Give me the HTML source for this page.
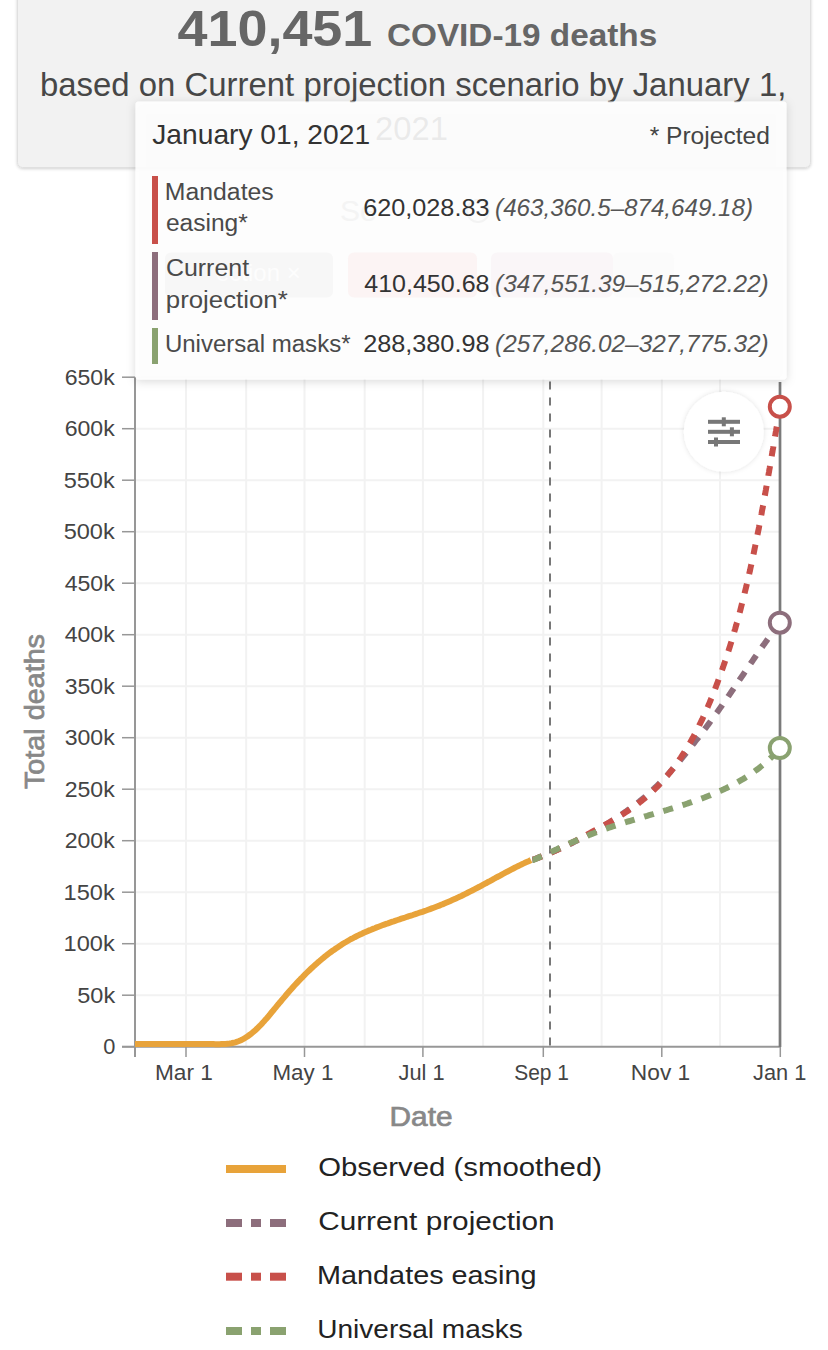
<!DOCTYPE html>
<html><head><meta charset="utf-8"><style>
html,body{margin:0;padding:0;background:#fff;width:828px;height:1350px;overflow:hidden}
svg{display:block}
text{font-family:"Liberation Sans", sans-serif}
</style></head><body>
<svg width="828" height="1350" viewBox="0 0 828 1350">
<defs><filter id="sh" x="-10%" y="-20%" width="120%" height="140%"><feDropShadow dx="0" dy="1" stdDeviation="1.5" flood-color="#000" flood-opacity="0.18"/></filter><filter id="sh2" x="-10%" y="-10%" width="120%" height="130%"><feDropShadow dx="0" dy="2" stdDeviation="5" flood-color="#000" flood-opacity="0.17"/></filter><filter id="sh3" x="-30%" y="-30%" width="160%" height="160%"><feDropShadow dx="0" dy="0" stdDeviation="2.5" flood-color="#000" flood-opacity="0.12"/></filter></defs>
<rect x="17.5" y="-10" width="793" height="177.5" rx="5" fill="#f2f2f2" stroke="#e0e0e0" stroke-width="1" filter="url(#sh)"/>
<text id="h_num" x="177.46" y="45.90" font-size="50.00" fill="#666" font-weight="bold" font-style="normal" text-anchor="start" textLength="194.89" lengthAdjust="spacingAndGlyphs">410,451</text>
<text id="h_covid" x="386.92" y="46.20" font-size="31.00" fill="#666" font-weight="bold" font-style="normal" text-anchor="start" textLength="270.31" lengthAdjust="spacingAndGlyphs">COVID-19 deaths</text>
<text id="h_sub" x="39.96" y="95.70" font-size="32.30" fill="#474747" font-weight="normal" font-style="normal" text-anchor="start" textLength="746.37" lengthAdjust="spacingAndGlyphs">based on Current projection scenario by January 1,</text>
<text id="h_2021" x="374.97" y="140.00" font-size="32.30" fill="#474747" font-weight="normal" font-style="normal" text-anchor="start" textLength="72.92" lengthAdjust="spacingAndGlyphs">2021</text>
<line x1="186.0" y1="377" x2="186.0" y2="1046" stroke="#f2f2f2" stroke-width="2"/>
<line x1="246.2" y1="377" x2="246.2" y2="1046" stroke="#f2f2f2" stroke-width="2"/>
<line x1="304.5" y1="377" x2="304.5" y2="1046" stroke="#f2f2f2" stroke-width="2"/>
<line x1="364.7" y1="377" x2="364.7" y2="1046" stroke="#f2f2f2" stroke-width="2"/>
<line x1="422.9" y1="377" x2="422.9" y2="1046" stroke="#f2f2f2" stroke-width="2"/>
<line x1="483.1" y1="377" x2="483.1" y2="1046" stroke="#f2f2f2" stroke-width="2"/>
<line x1="543.3" y1="377" x2="543.3" y2="1046" stroke="#f2f2f2" stroke-width="2"/>
<line x1="601.6" y1="377" x2="601.6" y2="1046" stroke="#f2f2f2" stroke-width="2"/>
<line x1="661.8" y1="377" x2="661.8" y2="1046" stroke="#f2f2f2" stroke-width="2"/>
<line x1="720.0" y1="377" x2="720.0" y2="1046" stroke="#f2f2f2" stroke-width="2"/>
<line x1="135" y1="995.2" x2="780" y2="995.2" stroke="#f2f2f2" stroke-width="2"/>
<line x1="135" y1="943.7" x2="780" y2="943.7" stroke="#f2f2f2" stroke-width="2"/>
<line x1="135" y1="892.2" x2="780" y2="892.2" stroke="#f2f2f2" stroke-width="2"/>
<line x1="135" y1="840.7" x2="780" y2="840.7" stroke="#f2f2f2" stroke-width="2"/>
<line x1="135" y1="789.2" x2="780" y2="789.2" stroke="#f2f2f2" stroke-width="2"/>
<line x1="135" y1="737.7" x2="780" y2="737.7" stroke="#f2f2f2" stroke-width="2"/>
<line x1="135" y1="686.2" x2="780" y2="686.2" stroke="#f2f2f2" stroke-width="2"/>
<line x1="135" y1="634.7" x2="780" y2="634.7" stroke="#f2f2f2" stroke-width="2"/>
<line x1="135" y1="583.2" x2="780" y2="583.2" stroke="#f2f2f2" stroke-width="2"/>
<line x1="135" y1="531.7" x2="780" y2="531.7" stroke="#f2f2f2" stroke-width="2"/>
<line x1="135" y1="480.2" x2="780" y2="480.2" stroke="#f2f2f2" stroke-width="2"/>
<line x1="135" y1="428.7" x2="780" y2="428.7" stroke="#f2f2f2" stroke-width="2"/>
<line x1="135" y1="377.2" x2="780" y2="377.2" stroke="#f2f2f2" stroke-width="2"/>
<line x1="122" y1="1046.7" x2="135" y2="1046.7" stroke="#979797" stroke-width="1.5"/>
<line x1="122" y1="995.2" x2="135" y2="995.2" stroke="#979797" stroke-width="1.5"/>
<line x1="122" y1="943.7" x2="135" y2="943.7" stroke="#979797" stroke-width="1.5"/>
<line x1="122" y1="892.2" x2="135" y2="892.2" stroke="#979797" stroke-width="1.5"/>
<line x1="122" y1="840.7" x2="135" y2="840.7" stroke="#979797" stroke-width="1.5"/>
<line x1="122" y1="789.2" x2="135" y2="789.2" stroke="#979797" stroke-width="1.5"/>
<line x1="122" y1="737.7" x2="135" y2="737.7" stroke="#979797" stroke-width="1.5"/>
<line x1="122" y1="686.2" x2="135" y2="686.2" stroke="#979797" stroke-width="1.5"/>
<line x1="122" y1="634.7" x2="135" y2="634.7" stroke="#979797" stroke-width="1.5"/>
<line x1="122" y1="583.2" x2="135" y2="583.2" stroke="#979797" stroke-width="1.5"/>
<line x1="122" y1="531.7" x2="135" y2="531.7" stroke="#979797" stroke-width="1.5"/>
<line x1="122" y1="480.2" x2="135" y2="480.2" stroke="#979797" stroke-width="1.5"/>
<line x1="122" y1="428.7" x2="135" y2="428.7" stroke="#979797" stroke-width="1.5"/>
<line x1="122" y1="377.2" x2="135" y2="377.2" stroke="#979797" stroke-width="1.5"/>
<line x1="135" y1="377" x2="135" y2="1057" stroke="#979797" stroke-width="2"/>
<line x1="122" y1="1046.7" x2="781" y2="1046.7" stroke="#979797" stroke-width="2"/>
<line x1="186.0" y1="1046.7" x2="186.0" y2="1057" stroke="#979797" stroke-width="1.5"/>
<line x1="304.5" y1="1046.7" x2="304.5" y2="1057" stroke="#979797" stroke-width="1.5"/>
<line x1="422.9" y1="1046.7" x2="422.9" y2="1057" stroke="#979797" stroke-width="1.5"/>
<line x1="543.3" y1="1046.7" x2="543.3" y2="1057" stroke="#979797" stroke-width="1.5"/>
<line x1="661.8" y1="1046.7" x2="661.8" y2="1057" stroke="#979797" stroke-width="1.5"/>
<line x1="780.3" y1="1046.7" x2="780.3" y2="1057" stroke="#979797" stroke-width="1.5"/>
<line x1="550" y1="381.6" x2="550" y2="1046" stroke="#777" stroke-width="2" stroke-dasharray="8 8"/>
<line x1="780" y1="382" x2="780" y2="1047" stroke="#7a7a7a" stroke-width="2.7"/>
<text id="tdeaths" transform="translate(43.7,711) rotate(-90)" x="-78" y="0" font-size="27" fill="#888" stroke="#888" stroke-width="0.7" textLength="155" lengthAdjust="spacingAndGlyphs">Total deaths</text>
<text id="y0" x="103.14" y="1054.30" font-size="22.60" fill="#444" font-weight="normal" font-style="normal" text-anchor="start" textLength="12.12" lengthAdjust="spacingAndGlyphs">0</text>
<text id="y1" x="77.26" y="1002.80" font-size="22.60" fill="#444" font-weight="normal" font-style="normal" text-anchor="start" textLength="37.90" lengthAdjust="spacingAndGlyphs">50k</text>
<text id="y2" x="63.62" y="951.30" font-size="22.60" fill="#444" font-weight="normal" font-style="normal" text-anchor="start" textLength="51.09" lengthAdjust="spacingAndGlyphs">100k</text>
<text id="y3" x="63.62" y="899.80" font-size="22.60" fill="#444" font-weight="normal" font-style="normal" text-anchor="start" textLength="51.09" lengthAdjust="spacingAndGlyphs">150k</text>
<text id="y4" x="64.68" y="848.30" font-size="22.60" fill="#444" font-weight="normal" font-style="normal" text-anchor="start" textLength="50.03" lengthAdjust="spacingAndGlyphs">200k</text>
<text id="y5" x="64.68" y="796.80" font-size="22.60" fill="#444" font-weight="normal" font-style="normal" text-anchor="start" textLength="50.03" lengthAdjust="spacingAndGlyphs">250k</text>
<text id="y6" x="64.68" y="745.30" font-size="22.60" fill="#444" font-weight="normal" font-style="normal" text-anchor="start" textLength="50.03" lengthAdjust="spacingAndGlyphs">300k</text>
<text id="y7" x="64.68" y="693.80" font-size="22.60" fill="#444" font-weight="normal" font-style="normal" text-anchor="start" textLength="50.03" lengthAdjust="spacingAndGlyphs">350k</text>
<text id="y8" x="64.68" y="642.30" font-size="22.60" fill="#444" font-weight="normal" font-style="normal" text-anchor="start" textLength="50.03" lengthAdjust="spacingAndGlyphs">400k</text>
<text id="y9" x="64.68" y="590.80" font-size="22.60" fill="#444" font-weight="normal" font-style="normal" text-anchor="start" textLength="50.03" lengthAdjust="spacingAndGlyphs">450k</text>
<text id="y10" x="63.65" y="539.30" font-size="22.60" fill="#444" font-weight="normal" font-style="normal" text-anchor="start" textLength="51.05" lengthAdjust="spacingAndGlyphs">500k</text>
<text id="y11" x="63.65" y="487.80" font-size="22.60" fill="#444" font-weight="normal" font-style="normal" text-anchor="start" textLength="51.05" lengthAdjust="spacingAndGlyphs">550k</text>
<text id="y12" x="64.68" y="436.30" font-size="22.60" fill="#444" font-weight="normal" font-style="normal" text-anchor="start" textLength="50.03" lengthAdjust="spacingAndGlyphs">600k</text>
<text id="y13" x="64.68" y="384.80" font-size="22.60" fill="#444" font-weight="normal" font-style="normal" text-anchor="start" textLength="50.03" lengthAdjust="spacingAndGlyphs">650k</text>
<text id="x_Mar1" x="154.92" y="1079.50" font-size="21.50" fill="#444" font-weight="normal" font-style="normal" text-anchor="start" textLength="57.95" lengthAdjust="spacingAndGlyphs">Mar 1</text>
<text id="x_May1" x="272.44" y="1079.50" font-size="21.50" fill="#444" font-weight="normal" font-style="normal" text-anchor="start" textLength="60.90" lengthAdjust="spacingAndGlyphs">May 1</text>
<text id="x_Jul1" x="398.49" y="1079.50" font-size="21.50" fill="#444" font-weight="normal" font-style="normal" text-anchor="start" textLength="46.08" lengthAdjust="spacingAndGlyphs">Jul 1</text>
<text id="x_Sep1" x="514.21" y="1079.50" font-size="21.50" fill="#444" font-weight="normal" font-style="normal" text-anchor="start" textLength="54.74" lengthAdjust="spacingAndGlyphs">Sep 1</text>
<text id="x_Nov1" x="630.89" y="1079.50" font-size="21.50" fill="#444" font-weight="normal" font-style="normal" text-anchor="start" textLength="59.35" lengthAdjust="spacingAndGlyphs">Nov 1</text>
<text id="x_Jan1" x="753.02" y="1079.50" font-size="21.50" fill="#444" font-weight="normal" font-style="normal" text-anchor="start" textLength="53.26" lengthAdjust="spacingAndGlyphs">Jan 1</text>
<text id="date" x="389.52" y="1125.60" font-size="27.00" fill="#888" font-weight="normal" font-style="normal" text-anchor="start" textLength="63.02" lengthAdjust="spacingAndGlyphs" stroke="#888" stroke-width="0.7">Date</text>
<text id="lg1" x="318.18" y="1175.50" font-size="25.50" fill="#222" font-weight="normal" font-style="normal" text-anchor="start" textLength="283.81" lengthAdjust="spacingAndGlyphs">Observed (smoothed)</text>
<text id="lg2" x="318.15" y="1230.00" font-size="25.50" fill="#222" font-weight="normal" font-style="normal" text-anchor="start" textLength="236.54" lengthAdjust="spacingAndGlyphs">Current projection</text>
<text id="lg3" x="317.07" y="1284.20" font-size="25.50" fill="#222" font-weight="normal" font-style="normal" text-anchor="start" textLength="219.37" lengthAdjust="spacingAndGlyphs">Mandates easing</text>
<text id="lg4" x="317.29" y="1338.30" font-size="25.50" fill="#222" font-weight="normal" font-style="normal" text-anchor="start" textLength="205.45" lengthAdjust="spacingAndGlyphs">Universal masks</text>
<path d="M135.0 1044.0 L137.0 1044.0 L139.0 1044.0 L141.1 1044.0 L143.1 1044.1 L145.1 1044.1 L147.1 1044.1 L149.1 1044.1 L151.1 1044.1 L153.1 1044.1 L155.1 1044.1 L157.1 1044.1 L159.1 1044.1 L161.1 1044.1 L163.1 1044.0 L165.1 1044.0 L167.1 1044.0 L169.1 1044.0 L171.2 1044.0 L173.2 1044.0 L175.2 1043.9 L177.2 1043.9 L179.2 1043.9 L181.2 1043.9 L183.2 1043.9 L185.2 1043.9 L187.2 1043.9 L189.2 1043.9 L191.2 1043.9 L193.2 1043.9 L195.2 1043.9 L197.2 1043.9 L199.2 1043.9 L201.2 1043.9 L203.3 1043.9 L205.3 1044.0 L207.3 1044.0 L209.3 1044.0 L211.3 1044.1 L213.4 1044.1 L215.4 1044.2 L217.4 1044.2 L219.4 1044.2 L221.5 1044.1 L223.5 1044.0 L225.5 1043.9 L227.5 1043.7 L229.5 1043.5 L231.4 1043.2 L233.4 1042.8 L235.3 1042.3 L237.2 1041.7 L239.0 1041.0 L240.9 1040.2 L242.6 1039.3 L244.4 1038.4 L246.1 1037.3 L247.8 1036.2 L249.4 1035.0 L251.0 1033.8 L252.6 1032.5 L254.1 1031.2 L255.6 1029.9 L257.1 1028.5 L258.5 1027.1 L260.0 1025.7 L261.4 1024.2 L262.7 1022.7 L264.1 1021.3 L265.4 1019.7 L266.8 1018.2 L268.1 1016.7 L269.4 1015.2 L270.6 1013.6 L271.9 1012.0 L273.2 1010.5 L274.5 1008.9 L275.8 1007.4 L277.0 1005.8 L278.3 1004.3 L279.6 1002.7 L280.9 1001.2 L282.2 999.6 L283.5 998.1 L284.8 996.6 L286.1 995.0 L287.4 993.5 L288.7 992.0 L290.0 990.5 L291.4 989.0 L292.7 987.5 L294.0 986.0 L295.4 984.5 L296.7 983.1 L298.1 981.6 L299.5 980.2 L300.9 978.7 L302.3 977.3 L303.7 975.8 L305.1 974.4 L306.5 973.0 L307.9 971.6 L309.4 970.2 L310.9 968.8 L312.3 967.5 L313.8 966.1 L315.3 964.7 L316.8 963.4 L318.3 962.1 L319.9 960.8 L321.4 959.5 L323.0 958.2 L324.5 956.9 L326.1 955.7 L327.7 954.4 L329.3 953.2 L330.9 952.0 L332.5 950.8 L334.2 949.7 L335.8 948.5 L337.5 947.4 L339.2 946.3 L340.8 945.2 L342.5 944.1 L344.2 943.0 L346.0 942.0 L347.7 941.0 L349.4 940.0 L351.2 939.0 L353.0 938.1 L354.7 937.2 L356.5 936.3 L358.3 935.4 L360.1 934.5 L361.9 933.7 L363.7 932.8 L365.6 932.0 L367.4 931.2 L369.3 930.4 L371.1 929.7 L373.0 928.9 L374.8 928.2 L376.7 927.4 L378.6 926.7 L380.5 926.0 L382.3 925.3 L384.2 924.6 L386.1 923.9 L388.0 923.3 L389.9 922.6 L391.8 921.9 L393.7 921.3 L395.7 920.6 L397.6 920.0 L399.5 919.4 L401.4 918.7 L403.3 918.1 L405.2 917.5 L407.1 916.8 L409.0 916.2 L411.0 915.6 L412.9 915.0 L414.8 914.3 L416.7 913.7 L418.6 913.0 L420.5 912.4 L422.4 911.8 L424.3 911.1 L426.2 910.5 L428.1 909.8 L430.0 909.1 L431.8 908.4 L433.7 907.7 L435.6 907.0 L437.5 906.3 L439.3 905.6 L441.2 904.8 L443.0 904.1 L444.9 903.3 L446.7 902.5 L448.6 901.7 L450.4 900.9 L452.3 900.1 L454.1 899.3 L455.9 898.5 L457.7 897.6 L459.5 896.7 L461.4 895.9 L463.2 895.0 L465.0 894.1 L466.8 893.2 L468.6 892.3 L470.4 891.4 L472.2 890.5 L473.9 889.6 L475.7 888.6 L477.5 887.7 L479.3 886.8 L481.1 885.8 L482.8 884.9 L484.6 883.9 L486.4 883.0 L488.1 882.0 L489.9 881.1 L491.7 880.1 L493.4 879.1 L495.2 878.2 L496.9 877.2 L498.7 876.3 L500.5 875.3 L502.2 874.3 L504.0 873.4 L505.8 872.4 L507.6 871.5 L509.3 870.6 L511.1 869.6 L512.9 868.7 L514.7 867.8 L516.5 866.9 L518.3 866.0 L520.1 865.1 L521.9 864.2 L523.7 863.4 L525.5 862.5 L527.3 861.7 L529.2 860.9 L531.0 860.0" fill="none" stroke="#e8a33a" stroke-width="6" stroke-linecap="butt"/>
<path d="M531.0 860.0 L533.0 859.6 L534.9 859.0 L536.7 858.3 L538.6 857.5 L540.4 856.8 L542.3 856.1 L544.1 855.4 L546.0 854.6 L547.8 853.9 L549.7 853.1 L551.5 852.3 L553.3 851.5 L555.2 850.8 L557.0 849.9 L558.8 849.1 L560.6 848.3 L562.5 847.5 L564.3 846.7 L566.1 845.8 L567.9 845.0 L569.7 844.1 L571.5 843.2 L573.3 842.3 L575.1 841.4 L576.9 840.5 L578.7 839.6 L580.5 838.7 L582.2 837.8 L584.0 836.9 L585.8 835.9 L587.5 835.0 L589.3 834.0 L591.1 833.1 L592.8 832.1 L594.6 831.1 L596.3 830.1 L598.0 829.1 L599.8 828.1 L601.5 827.1 L603.2 826.1 L605.0 825.0 L606.7 824.0 L608.4 823.0 L610.1 821.9 L611.8 820.8 L613.5 819.8 L615.2 818.7 L616.9 817.6 L618.5 816.5 L620.2 815.4 L621.9 814.3 L623.5 813.2 L625.2 812.0 L626.8 810.9 L628.4 809.7 L630.0 808.6 L631.7 807.4 L633.3 806.2 L634.8 805.0 L636.4 803.8 L638.0 802.5 L639.6 801.3 L641.1 800.0 L642.6 798.8 L644.2 797.5 L645.7 796.2 L647.2 794.9 L648.7 793.6 L650.1 792.2 L651.6 790.9 L653.1 789.5 L654.5 788.2 L655.9 786.8 L657.4 785.4 L658.8 784.0 L660.2 782.6 L661.6 781.2 L663.0 779.7 L664.3 778.3 L665.7 776.8 L667.1 775.4 L668.4 773.9 L669.7 772.4 L671.1 770.9 L672.4 769.4 L673.7 767.9 L675.0 766.4 L676.3 764.9 L677.6 763.4 L678.9 761.8 L680.2 760.3 L681.5 758.7 L682.7 757.2 L684.0 755.6 L685.2 754.1 L686.5 752.5 L687.8 751.0 L689.0 749.4 L690.3 747.8 L691.5 746.3 L692.7 744.7 L694.0 743.1 L695.2 741.5 L696.4 740.0 L697.7 738.4 L698.9 736.8 L700.1 735.2 L701.3 733.6 L702.5 732.0 L703.7 730.4 L704.9 728.8 L706.1 727.3 L707.3 725.7 L708.5 724.1 L709.7 722.5 L710.9 720.8 L712.1 719.2 L713.3 717.6 L714.4 716.0 L715.6 714.4 L716.8 712.8 L717.9 711.2 L719.1 709.5 L720.2 707.9 L721.4 706.3 L722.5 704.6 L723.7 703.0 L724.8 701.4 L726.0 699.7 L727.1 698.1 L728.2 696.4 L729.4 694.8 L730.5 693.2 L731.6 691.5 L732.8 689.9 L733.9 688.2 L735.0 686.6 L736.1 684.9 L737.3 683.3 L738.4 681.6 L739.5 679.9 L740.6 678.3 L741.7 676.6 L742.9 675.0 L744.0 673.3 L745.1 671.7 L746.2 670.0 L747.4 668.4 L748.5 666.7 L749.6 665.1 L750.7 663.4 L751.9 661.8 L753.0 660.1 L754.1 658.5 L755.3 656.8 L756.4 655.2 L757.6 653.5 L758.7 651.9 L759.8 650.2 L761.0 648.6 L762.1 647.0 L763.3 645.3 L764.5 643.7 L765.6 642.1 L766.8 640.4 L767.9 638.8 L769.1 637.2 L770.3 635.6 L771.5 634.0 L772.7 632.3 L773.8 630.7 L775.0 629.1 L776.2 627.5 L777.4 625.9 L778.6 624.3 L779.8 622.7" fill="none" stroke="#8d6e7c" stroke-width="6" stroke-dasharray="10 10" stroke-dashoffset="18.5"/>
<path d="M531.0 860.0 L533.1 859.7 L535.0 859.0 L536.9 858.3 L538.8 857.6 L540.6 856.9 L542.5 856.2 L544.4 855.4 L546.2 854.7 L548.0 853.9 L549.8 853.2 L551.7 852.4 L553.5 851.6 L555.3 850.8 L557.1 849.9 L558.9 849.1 L560.6 848.3 L562.4 847.4 L564.2 846.5 L566.0 845.7 L567.7 844.8 L569.5 843.9 L571.3 843.0 L573.0 842.1 L574.8 841.2 L576.5 840.3 L578.3 839.3 L580.1 838.4 L581.8 837.5 L583.6 836.5 L585.4 835.6 L587.1 834.6 L588.9 833.6 L590.7 832.7 L592.4 831.7 L594.2 830.7 L596.0 829.8 L597.8 828.8 L599.6 827.8 L601.4 826.8 L603.2 825.8 L604.9 824.8 L606.7 823.8 L608.5 822.8 L610.3 821.8 L612.1 820.7 L613.8 819.7 L615.6 818.6 L617.3 817.6 L619.1 816.5 L620.8 815.4 L622.6 814.3 L624.3 813.2 L626.0 812.1 L627.7 811.0 L629.4 809.8 L631.1 808.7 L632.8 807.5 L634.4 806.4 L636.0 805.2 L637.7 804.0 L639.3 802.7 L640.9 801.5 L642.4 800.2 L644.0 799.0 L645.5 797.7 L647.0 796.4 L648.5 795.1 L650.0 793.7 L651.5 792.4 L652.9 791.0 L654.4 789.6 L655.8 788.2 L657.2 786.8 L658.6 785.4 L659.9 784.0 L661.3 782.5 L662.6 781.1 L663.9 779.6 L665.2 778.1 L666.5 776.6 L667.8 775.1 L669.0 773.6 L670.3 772.0 L671.5 770.5 L672.7 768.9 L673.9 767.3 L675.1 765.8 L676.2 764.2 L677.4 762.6 L678.5 760.9 L679.6 759.3 L680.8 757.7 L681.9 756.0 L682.9 754.4 L684.0 752.7 L685.1 751.0 L686.1 749.3 L687.1 747.6 L688.2 745.9 L689.2 744.2 L690.2 742.5 L691.2 740.8 L692.1 739.0 L693.1 737.3 L694.1 735.5 L695.0 733.8 L695.9 732.0 L696.8 730.2 L697.8 728.4 L698.7 726.6 L699.5 724.8 L700.4 723.0 L701.3 721.2 L702.2 719.4 L703.0 717.6 L703.8 715.8 L704.7 713.9 L705.5 712.1 L706.3 710.3 L707.1 708.4 L707.9 706.6 L708.7 704.7 L709.5 702.9 L710.3 701.0 L711.0 699.1 L711.8 697.3 L712.6 695.4 L713.3 693.5 L714.0 691.6 L714.8 689.8 L715.5 687.9 L716.2 686.0 L716.9 684.1 L717.6 682.2 L718.3 680.3 L719.0 678.4 L719.7 676.6 L720.4 674.7 L721.1 672.8 L721.7 670.9 L722.4 669.0 L723.1 667.1 L723.7 665.2 L724.4 663.3 L725.0 661.4 L725.7 659.5 L726.3 657.6 L726.9 655.6 L727.5 653.7 L728.2 651.8 L728.8 649.9 L729.4 648.0 L730.0 646.1 L730.6 644.2 L731.2 642.3 L731.8 640.3 L732.3 638.4 L732.9 636.5 L733.5 634.6 L734.1 632.6 L734.6 630.7 L735.2 628.8 L735.7 626.9 L736.3 624.9 L736.8 623.0 L737.4 621.1 L737.9 619.1 L738.4 617.2 L738.9 615.3 L739.5 613.3 L740.0 611.4 L740.5 609.5 L741.0 607.5 L741.5 605.6 L742.0 603.6 L742.5 601.7 L743.0 599.8 L743.5 597.8 L744.0 595.9 L744.5 593.9 L744.9 592.0 L745.4 590.0 L745.9 588.1 L746.4 586.1 L746.8 584.2 L747.3 582.2 L747.7 580.3 L748.2 578.3 L748.6 576.4 L749.1 574.4 L749.5 572.5 L750.0 570.5 L750.4 568.5 L750.8 566.6 L751.3 564.6 L751.7 562.7 L752.1 560.7 L752.6 558.7 L753.0 556.8 L753.4 554.8 L753.8 552.9 L754.2 550.9 L754.6 548.9 L755.0 547.0 L755.4 545.0 L755.8 543.0 L756.2 541.1 L756.6 539.1 L757.0 537.1 L757.4 535.2 L757.8 533.2 L758.2 531.2 L758.6 529.3 L759.0 527.3 L759.3 525.3 L759.7 523.3 L760.1 521.4 L760.5 519.4 L760.8 517.4 L761.2 515.5 L761.6 513.5 L761.9 511.5 L762.3 509.5 L762.7 507.6 L763.0 505.6 L763.4 503.6 L763.8 501.6 L764.1 499.7 L764.5 497.7 L764.8 495.7 L765.2 493.7 L765.5 491.8 L765.9 489.8 L766.2 487.8 L766.6 485.8 L766.9 483.9 L767.3 481.9 L767.6 479.9 L768.0 477.9 L768.3 475.9 L768.6 474.0 L769.0 472.0 L769.3 470.0 L769.7 468.0 L770.0 466.1 L770.3 464.1 L770.7 462.1 L771.0 460.1 L771.4 458.1 L771.7 456.2 L772.0 454.2 L772.4 452.2 L772.7 450.2 L773.1 448.3 L773.4 446.3 L773.7 444.3 L774.1 442.3 L774.4 440.4 L774.7 438.4 L775.1 436.4 L775.4 434.4 L775.7 432.5 L776.1 430.5 L776.4 428.5 L776.8 426.5 L777.1 424.6 L777.4 422.6 L777.8 420.6 L778.1 418.6 L778.5 416.7 L778.8 414.7 L779.1 412.7 L779.5 410.7 L779.8 408.8 L779.8 406.7" fill="none" stroke="#c8504a" stroke-width="6" stroke-dasharray="10 10" stroke-dashoffset="18.5"/>
<path d="M531.0 860.0 L533.1 860.0 L535.0 859.2 L536.8 858.4 L538.7 857.5 L540.5 856.7 L542.3 855.9 L544.2 855.1 L546.0 854.2 L547.8 853.4 L549.7 852.6 L551.5 851.7 L553.3 850.9 L555.2 850.0 L557.0 849.2 L558.8 848.3 L560.7 847.5 L562.5 846.7 L564.3 845.8 L566.2 845.0 L568.0 844.2 L569.8 843.3 L571.7 842.5 L573.5 841.7 L575.3 840.9 L577.2 840.1 L579.0 839.3 L580.9 838.5 L582.7 837.7 L584.5 836.9 L586.4 836.2 L588.3 835.4 L590.1 834.6 L592.0 833.9 L593.8 833.2 L595.7 832.5 L597.6 831.8 L599.5 831.1 L601.3 830.4 L603.2 829.7 L605.1 829.0 L607.0 828.4 L608.9 827.7 L610.8 827.1 L612.7 826.4 L614.6 825.8 L616.5 825.2 L618.4 824.6 L620.3 823.9 L622.2 823.3 L624.1 822.7 L626.0 822.1 L627.9 821.5 L629.9 821.0 L631.8 820.4 L633.7 819.8 L635.6 819.2 L637.6 818.6 L639.5 818.1 L641.4 817.5 L643.4 816.9 L645.3 816.3 L647.2 815.8 L649.2 815.2 L651.1 814.6 L653.1 814.1 L655.0 813.5 L656.9 812.9 L658.9 812.4 L660.8 811.8 L662.8 811.2 L664.7 810.6 L666.7 810.1 L668.6 809.5 L670.5 808.9 L672.5 808.3 L674.4 807.7 L676.4 807.1 L678.3 806.5 L680.2 805.9 L682.2 805.3 L684.1 804.7 L686.0 804.0 L687.9 803.4 L689.8 802.7 L691.8 802.1 L693.7 801.4 L695.6 800.8 L697.5 800.1 L699.4 799.4 L701.3 798.7 L703.2 798.0 L705.0 797.3 L706.9 796.5 L708.8 795.8 L710.6 795.1 L712.5 794.3 L714.3 793.5 L716.2 792.7 L718.0 791.9 L719.9 791.1 L721.7 790.3 L723.5 789.4 L725.3 788.6 L727.1 787.7 L728.9 786.8 L730.7 785.9 L732.4 785.0 L734.2 784.1 L735.9 783.1 L737.7 782.1 L739.4 781.1 L741.1 780.1 L742.9 779.1 L744.6 778.1 L746.2 777.0 L747.9 775.9 L749.6 774.8 L751.3 773.7 L752.9 772.6 L754.5 771.4 L756.1 770.2 L757.8 769.0 L759.3 767.8 L760.9 766.5 L762.5 765.2 L764.0 763.9 L765.6 762.6 L767.1 761.3 L768.6 759.9 L770.1 758.5 L771.6 757.1 L773.1 755.6 L774.5 754.2 L776.0 752.7 L777.4 751.1 L778.8 749.6 L779.8 748.0" fill="none" stroke="#8aa270" stroke-width="6" stroke-dasharray="10 10" stroke-dashoffset="18.5"/>
<circle cx="779.8" cy="406.7" r="10" fill="#fff" stroke="#c8504a" stroke-width="4"/>
<circle cx="779.8" cy="622.7" r="10" fill="#fff" stroke="#8d6e7c" stroke-width="4"/>
<circle cx="779.8" cy="748.0" r="10" fill="#fff" stroke="#8aa270" stroke-width="4"/>
<circle cx="723.8" cy="431.8" r="40" fill="#fff" filter="url(#sh3)"/>
<rect x="708" y="419.8" width="32" height="4" fill="#777"/>
<rect x="721.8" y="417.3" width="4" height="9" fill="#777"/>
<rect x="708" y="429.8" width="32" height="4" fill="#777"/>
<rect x="729.9" y="427.3" width="4" height="9" fill="#777"/>
<rect x="708" y="440.0" width="32" height="4" fill="#777"/>
<rect x="714.0" y="437.5" width="4" height="9" fill="#777"/>
<rect x="135.5" y="101.5" width="651" height="278" rx="3" fill="#fff" fill-opacity="0.88" filter="url(#sh2)"/>
<text x="340" y="221" font-size="30" fill="#f4f4f4">Se</text>
<circle cx="478" cy="211" r="11" fill="none" stroke="#f3f3f3" stroke-width="2"/>
<rect x="165" y="252.5" width="168" height="45" rx="6" fill="#f7f7f7"/>
<text x="216" y="281" font-size="24" fill="#fdfdfd">ection ×</text>
<rect x="348" y="252.5" width="129" height="45" rx="6" fill="#fcf4f4"/>
<rect x="491" y="252.5" width="122" height="45" rx="6" fill="#faf6f8"/>
<rect x="613" y="252.5" width="61" height="45" rx="6" fill="#fbfbfb"/>
<rect x="152" y="176" width="6" height="68" fill="#c8504a"/>
<rect x="152" y="252" width="6" height="68" fill="#8d6e7c"/>
<rect x="152" y="328" width="6" height="36" fill="#8aa270"/>
<text id="t_date" x="152.29" y="144.30" font-size="27.50" fill="#333" font-weight="normal" font-style="normal" text-anchor="start" textLength="217.78" lengthAdjust="spacingAndGlyphs">January 01, 2021</text>
<text id="t_proj" x="649.65" y="143.80" font-size="23.50" fill="#444" font-weight="normal" font-style="normal" text-anchor="start" textLength="120.26" lengthAdjust="spacingAndGlyphs">* Projected</text>
<text id="t_l1a" x="164.84" y="200.00" font-size="23.30" fill="#4a4a4a" font-weight="normal" font-style="normal" text-anchor="start" textLength="108.87" lengthAdjust="spacingAndGlyphs">Mandates</text>
<text id="t_l1b" x="165.95" y="231.00" font-size="23.30" fill="#4a4a4a" font-weight="normal" font-style="normal" text-anchor="start" textLength="81.81" lengthAdjust="spacingAndGlyphs">easing*</text>
<text id="t_l2a" x="165.95" y="276.00" font-size="23.30" fill="#4a4a4a" font-weight="normal" font-style="normal" text-anchor="start" textLength="83.15" lengthAdjust="spacingAndGlyphs">Current</text>
<text id="t_l2b" x="165.79" y="307.50" font-size="23.30" fill="#4a4a4a" font-weight="normal" font-style="normal" text-anchor="start" textLength="121.93" lengthAdjust="spacingAndGlyphs">projection*</text>
<text id="t_l3" x="164.92" y="352.00" font-size="23.30" fill="#4a4a4a" font-weight="normal" font-style="normal" text-anchor="start" textLength="185.62" lengthAdjust="spacingAndGlyphs">Universal masks*</text>
<text id="t_n0" x="363.15" y="215.60" font-size="23.00" fill="#333" font-weight="normal" font-style="normal" text-anchor="start" textLength="126.34" lengthAdjust="spacingAndGlyphs">620,028.83</text>
<text id="t_r0" x="495.14" y="215.60" font-size="23.00" fill="#555" font-weight="normal" font-style="italic" text-anchor="start" textLength="257.88" lengthAdjust="spacingAndGlyphs">(463,360.5–874,649.18)</text>
<text id="t_n1" x="364.28" y="292.10" font-size="23.00" fill="#333" font-weight="normal" font-style="normal" text-anchor="start" textLength="125.23" lengthAdjust="spacingAndGlyphs">410,450.68</text>
<text id="t_r1" x="495.13" y="292.10" font-size="23.00" fill="#555" font-weight="normal" font-style="italic" text-anchor="start" textLength="273.48" lengthAdjust="spacingAndGlyphs">(347,551.39–515,272.22)</text>
<text id="t_n2" x="363.15" y="351.80" font-size="23.00" fill="#333" font-weight="normal" font-style="normal" text-anchor="start" textLength="126.34" lengthAdjust="spacingAndGlyphs">288,380.98</text>
<text id="t_r2" x="495.13" y="351.80" font-size="23.00" fill="#555" font-weight="normal" font-style="italic" text-anchor="start" textLength="273.48" lengthAdjust="spacingAndGlyphs">(257,286.02–327,775.32)</text>
<rect x="226" y="1165" width="60" height="8" fill="#e8a33a"/>
<rect x="226" y="1219.0" width="16" height="8" fill="#8d6e7c"/>
<rect x="251" y="1219.0" width="10" height="8" fill="#8d6e7c"/>
<rect x="270" y="1219.0" width="16" height="8" fill="#8d6e7c"/>
<rect x="226" y="1272.7" width="16" height="8" fill="#c8504a"/>
<rect x="251" y="1272.7" width="10" height="8" fill="#c8504a"/>
<rect x="270" y="1272.7" width="16" height="8" fill="#c8504a"/>
<rect x="226" y="1327.0" width="16" height="8" fill="#8aa270"/>
<rect x="251" y="1327.0" width="10" height="8" fill="#8aa270"/>
<rect x="270" y="1327.0" width="16" height="8" fill="#8aa270"/>
</svg>
</body></html>
